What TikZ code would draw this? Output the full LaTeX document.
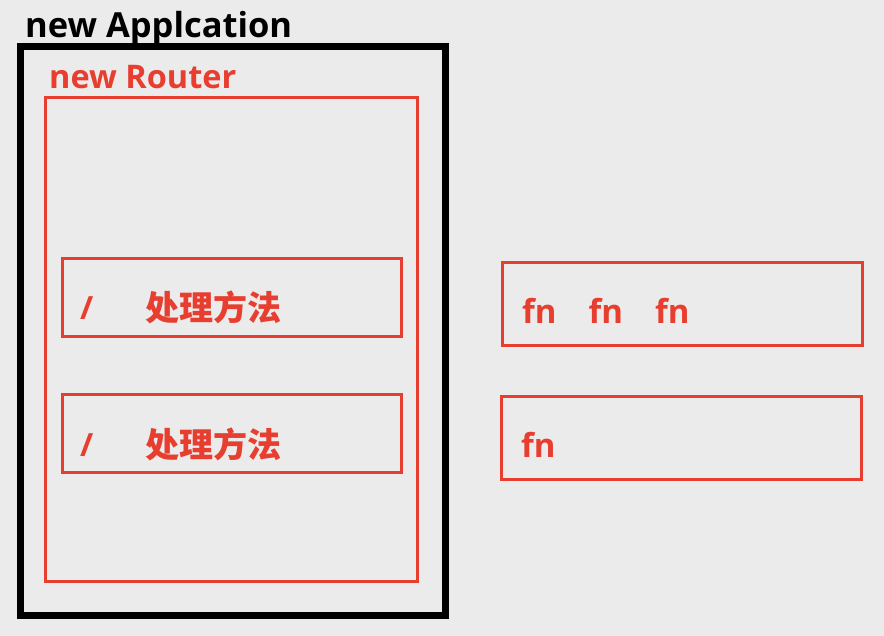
\documentclass[tikz,border=0pt]{standalone}
\usepackage{fontspec}
\setmainfont{Open Sans}
\newfontfamily\cjk{Noto Sans CJK SC}
\definecolor{bg}{RGB}{235,235,235}
\definecolor{rd}{RGB}{232,62,48}
\begin{document}
\begin{tikzpicture}[x=1pt,y=-1pt,
  box/.style={draw=rd,line width=3pt,inner sep=0pt,rectangle},
  lbl/.style={anchor=base west,inner sep=0pt,font=\fontsize{32}{38}\selectfont\bfseries},
  cjklbl/.style={anchor=base west,inner sep=0pt,text=rd,font=\fontsize{34}{38}\selectfont\cjk\bfseries}]
\fill[bg] (0,0) rectangle (884,636);
\useasboundingbox (0,0) rectangle (884,636);
\node[draw=black,line width=7pt,inner sep=0pt,minimum width=425pt,minimum height=569pt] (app) at (233,331) {};
\node[box,minimum width=372pt,minimum height=484pt] (router) at (231.5,339.5) {};
\node[box,minimum width=339pt,minimum height=78pt] (r1) at (231.5,298) {};
\node[box,minimum width=339pt,minimum height=77pt] (r2) at (231.5,433.5) {};
\node[box,minimum width=360pt,minimum height=83pt] (f1) at (682,304.5) {};
\node[box,minimum width=360pt,minimum height=82pt] (f2) at (681,438) {};
\node[lbl,font=\fontsize{34.5}{40}\selectfont\bfseries] (tapp) at (25,37.5) {new Applcation};
\node[lbl,text=rd,font=\fontsize{32.5}{38}\selectfont\bfseries] (trouter) at (49,88.5) {new Router};
\node[lbl,text=rd] (s1) at (80,320) {/};
\node[cjklbl] (c1) at (145,321) {处理方法};
\node[lbl,text=rd] (s2) at (80,456) {/};
\node[cjklbl] (c2) at (145,457) {处理方法};
\node[lbl,text=rd,font=\fontsize{33}{38}\selectfont\bfseries] (fa) at (522,324) {fn\hspace{32pt}fn\hspace{32pt}fn};
\node[lbl,text=rd,font=\fontsize{33}{38}\selectfont\bfseries] (fb) at (521,457) {fn};
\end{tikzpicture}
\end{document}
